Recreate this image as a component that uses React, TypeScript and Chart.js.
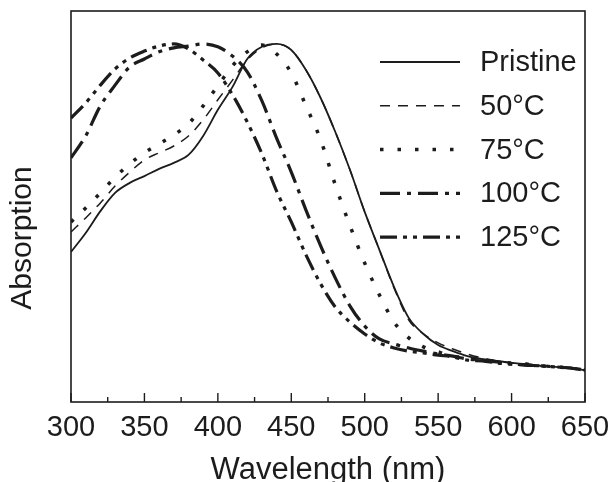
import React, { useEffect, useRef } from "react";
import { Chart, registerables } from "chart.js";

Chart.register(...registerables);

// Wavelength grid (nm)
const wavelengths = [
  300, 310, 320, 330, 340, 350, 360, 370, 380, 390, 400, 410, 420, 430, 440, 450, 460, 470,
  480, 490, 500, 510, 520, 530, 540, 550, 560, 570, 580, 590, 600, 610, 620, 630, 640, 650,
];

// Normalised absorption
const pristine = [
  0.419, 0.472, 0.533, 0.584, 0.612, 0.631, 0.651, 0.668, 0.690, 0.743, 0.816, 0.880, 0.958, 0.992, 1.0, 0.983, 0.927, 0.849,
  0.754, 0.648, 0.531, 0.425, 0.321, 0.235, 0.19, 0.159, 0.142, 0.128, 0.12, 0.115, 0.109, 0.106, 0.101, 0.098, 0.095, 0.089,
];
const t50 = [
  0.475, 0.514, 0.556, 0.603, 0.642, 0.676, 0.696, 0.715, 0.743, 0.788, 0.844, 0.899, 0.955, 0.989, 1.0, 0.983, 0.927, 0.849,
  0.754, 0.648, 0.531, 0.425, 0.318, 0.229, 0.19, 0.165, 0.148, 0.134, 0.123, 0.115, 0.109, 0.106, 0.101, 0.098, 0.095, 0.089,
];
const t75 = [
  0.503, 0.542, 0.584, 0.628, 0.665, 0.696, 0.721, 0.746, 0.777, 0.827, 0.883, 0.939, 0.978, 0.997, 0.972, 0.919, 0.827, 0.732,
  0.606, 0.492, 0.388, 0.299, 0.223, 0.179, 0.154, 0.14, 0.128, 0.123, 0.117, 0.112, 0.109, 0.106, 0.101, 0.098, 0.095, 0.089,
];
const t100 = [
  0.682, 0.743, 0.827, 0.885, 0.936, 0.958, 0.978, 0.989, 0.994, 1.0, 0.992, 0.966, 0.922, 0.841, 0.737, 0.642, 0.536, 0.436,
  0.346, 0.268, 0.212, 0.176, 0.162, 0.151, 0.142, 0.134, 0.128, 0.12, 0.117, 0.112, 0.106, 0.103, 0.101, 0.098, 0.095, 0.089,
];
const t125 = [
  0.793, 0.835, 0.885, 0.93, 0.961, 0.98, 0.994, 1.0, 0.986, 0.955, 0.919, 0.858, 0.782, 0.693, 0.589, 0.503, 0.411, 0.33,
  0.265, 0.223, 0.19, 0.165, 0.151, 0.142, 0.137, 0.131, 0.126, 0.117, 0.115, 0.109, 0.106, 0.103, 0.101, 0.098, 0.095, 0.089,
];

const seriesLabels = ["Pristine", "50°C", "75°C", "100°C", "125°C"];
const xTickStep = 50;
const xMin = 300;
const xMax = 650;

const FONT = "'Liberation Sans', Arial, Helvetica, sans-serif";
const INK = "#1c1c1c";

const styles = [
  { borderWidth: 1.8, borderDash: [] as number[] },
  { borderWidth: 1.5, borderDash: [10, 8] },
  { borderWidth: 3.5, borderDash: [3.5, 14] },
  { borderWidth: 3.2, borderDash: [20, 7, 4, 7] },
  { borderWidth: 3.2, borderDash: [17, 6, 4, 6, 4, 6] },
];

const decorPlugin = {
  id: "decor",
  afterDraw(chart: any) {
    const { ctx, chartArea: a, scales } = chart;
    const x = scales.x;
    ctx.save();
    // frame
    ctx.strokeStyle = INK;
    ctx.lineWidth = 1.6;
    ctx.setLineDash([]);
    ctx.strokeRect(a.left, a.top, a.right - a.left, a.bottom - a.top);
    // inward ticks: major at tick values, minor at midpoints
    ctx.lineWidth = 1.4;
    const ticks = x.ticks.map((t: any) => t.value);
    ticks.forEach((v: number, i: number) => {
      const px = x.getPixelForValue(v);
      ctx.beginPath();
      ctx.moveTo(px, a.bottom);
      ctx.lineTo(px, a.bottom - 9);
      ctx.stroke();
      if (i < ticks.length - 1) {
        const mid = x.getPixelForValue((v + ticks[i + 1]) / 2);
        ctx.beginPath();
        ctx.moveTo(mid, a.bottom);
        ctx.lineTo(mid, a.bottom - 5);
        ctx.stroke();
      }
    });
    // y axis title
    ctx.fillStyle = INK;
    ctx.font = `30px ${FONT}`;
    ctx.textAlign = "center";
    ctx.textBaseline = "middle";
    ctx.translate(23, 238);
    ctx.rotate(-Math.PI / 2);
    ctx.fillText("Absorption", 0, 0);
    ctx.restore();

    // legend
    ctx.save();
    chart.data.datasets.forEach((ds: any, i: number) => {
      const y = 62 + i * 43.8;
      ctx.strokeStyle = ds.borderColor;
      ctx.lineWidth = ds.borderWidth;
      ctx.setLineDash(ds.borderDash || []);
      ctx.lineCap = "butt";
      ctx.beginPath();
      ctx.moveTo(380, y);
      ctx.lineTo(460, y);
      ctx.stroke();
      ctx.setLineDash([]);
      ctx.fillStyle = INK;
      ctx.font = `29px ${FONT}`;
      ctx.textAlign = "left";
      ctx.textBaseline = "middle";
      ctx.fillText(ds.label, 480, y + 1);
    });
    ctx.restore();
  },
};

export default function App() {
  const ref = useRef<HTMLCanvasElement | null>(null);
  useEffect(() => {
    if (!ref.current) return;
    const all = [pristine, t50, t75, t100, t125];
    const chart = new Chart(ref.current, {
      type: "line",
      data: {
        datasets: all.map((arr, i) => ({
          label: seriesLabels[i],
          data: wavelengths.map((w, j) => ({ x: w, y: arr[j] })),
          borderColor: INK,
          borderWidth: styles[i].borderWidth,
          borderDash: styles[i].borderDash,
          borderCapStyle: "butt",
          pointRadius: 0,
          fill: false,
          cubicInterpolationMode: "monotone",
        })),
      },
      options: {
        responsive: false,
        animation: false,
        layout: { padding: { left: 71, top: 11, right: 28, bottom: 0 } },
        plugins: { legend: { display: false }, tooltip: { enabled: false } },
        scales: {
          x: {
            type: "linear",
            min: xMin,
            max: xMax,
            grid: { display: false, drawTicks: false },
            border: { display: false },
            afterFit: (scale: any) => {
              scale.paddingLeft = 0;
              scale.paddingRight = 0;
              scale.height = 80;
            },
            ticks: {
              stepSize: xTickStep,
              color: INK,
              padding: 11,
              font: { family: FONT, size: 29, lineHeight: 1.0 },
            },
            title: {
              display: true,
              text: "Wavelength (nm)",
              color: INK,
              font: { family: FONT, size: 31, lineHeight: 1.0 },
              padding: { top: 2, bottom: -4 },
            },
          },
          y: {
            display: false,
            min: 0,
            max: 1.092,
          },
        },
      },
      plugins: [decorPlugin],
    });
    return () => chart.destroy();
  }, []);
  return (
    <canvas
      ref={ref}
      width={613}
      height={482}
      style={{ position: "fixed", left: 0, top: 0, display: "block", background: "#fff" }}
    />
  );
}
